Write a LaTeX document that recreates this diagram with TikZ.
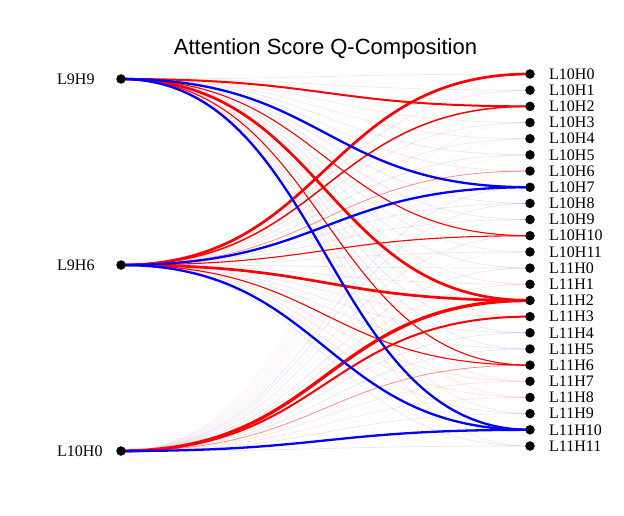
\documentclass[tikz,border=0pt]{standalone}
\usepackage{fontspec}
\setmainfont{Liberation Serif}
\newfontfamily\titlefont{Liberation Sans}
\usetikzlibrary{calc}
\pgfdeclarelayer{bg}
\pgfsetlayers{bg,main}
\begin{document}
\begin{tikzpicture}[x=1pt,y=-1pt,
  dot/.style={circle,fill=black,inner sep=0pt,minimum size=9.5pt},
  lbl/.style={font=\fontsize{16}{16}\selectfont,anchor=west,inner sep=0pt},
  fr/.style={draw=red,draw opacity=.11,line width=.7pt},
  fb/.style={draw=blue,draw opacity=.10,line width=.7pt},
  gr/.style={draw=red,draw opacity=.06,line width=.6pt},
  gb/.style={draw=blue,draw opacity=.06,line width=.6pt},
  rf/.style={draw=red,draw opacity=.45,line width=.8pt},
  ra/.style={draw=red,line width=1.1pt},
  rb/.style={draw=red,line width=1.5pt},
  rc/.style={draw=red,line width=2pt},
  rd/.style={draw=red,line width=2.7pt},
  re/.style={draw=red,line width=3.3pt},
  bb/.style={draw=blue,line width=2.3pt}]
\useasboundingbox (0,0) rectangle (624,516);
\node[font=\titlefont\fontsize{22}{22}\selectfont] (title) at (325.5,49) {Attention Score Q-Composition};
\foreach \n/\y [count=\i] in {L9H9/79,L9H6/265,L10H0/451} {
  \node[dot] (l\i) at (121,\y) {};
  \node[lbl] (tl\i) at (57,\y) {\n};
}
\foreach \n [count=\i from 0] in {L10H0,L10H1,L10H2,L10H3,L10H4,L10H5,L10H6,L10H7,L10H8,L10H9,L10H10,L10H11,L11H0,L11H1,L11H2,L11H3,L11H4,L11H5,L11H6,L11H7,L11H8,L11H9,L11H10,L11H11} {
  \node[dot] (r\i) at (530,{74+16.174*\i}) {};
  \node[lbl] (tr\i) at (549,{74+16.174*\i}) {\n};
}
\begin{pgfonlayer}{bg}
% faint connectors
\foreach \a/\b/\s in {
  1/0/fr,1/1/fr,1/3/fr,1/4/fr,1/5/fb,1/6/fr,1/8/fb,1/9/fb,1/11/fr,1/12/fb,1/13/fr,1/15/fr,1/16/fb,1/17/fb,1/19/fr,1/20/fr,1/21/fr,1/23/fr,
  2/1/fr,2/3/fr,2/4/fr,2/5/fb,2/8/fb,2/9/fb,2/11/fr,2/12/fb,2/13/fr,2/15/fr,2/16/fb,2/17/fb,2/19/fr,2/20/fr,2/21/fr,2/23/fb,
  3/0/gr,3/1/gr,3/2/gr,3/3/gb,3/4/gr,3/5/gb,3/6/gr,3/7/fb,3/8/fb,3/9/gb,3/10/fr,3/11/gr,3/12/fb,3/13/fr,3/16/fb,3/17/fb,3/19/fr,3/20/fr,3/21/fb,3/23/fb} {
  \draw[\s] (l\a.center) .. controls ($(l\a.center)+(204.5,0)$) and ($(r\b.center)-(204.5,0)$) .. (r\b.center);
}
% strong connectors
\foreach \a/\b/\s in {
  2/6/rf,3/18/rf,
  1/10/ra,1/18/ra,2/10/ra,2/18/ra,2/2/rb,
  1/2/rc,3/15/rc,
  2/0/rd,1/14/rd,2/14/rd,3/14/re,
  1/7/bb,1/22/bb,2/7/bb,2/22/bb,3/22/bb} {
  \draw[\s] (l\a.center) .. controls ($(l\a.center)+(204.5,0)$) and ($(r\b.center)-(204.5,0)$) .. (r\b.center);
}
\end{pgfonlayer}
\end{tikzpicture}
\end{document}
